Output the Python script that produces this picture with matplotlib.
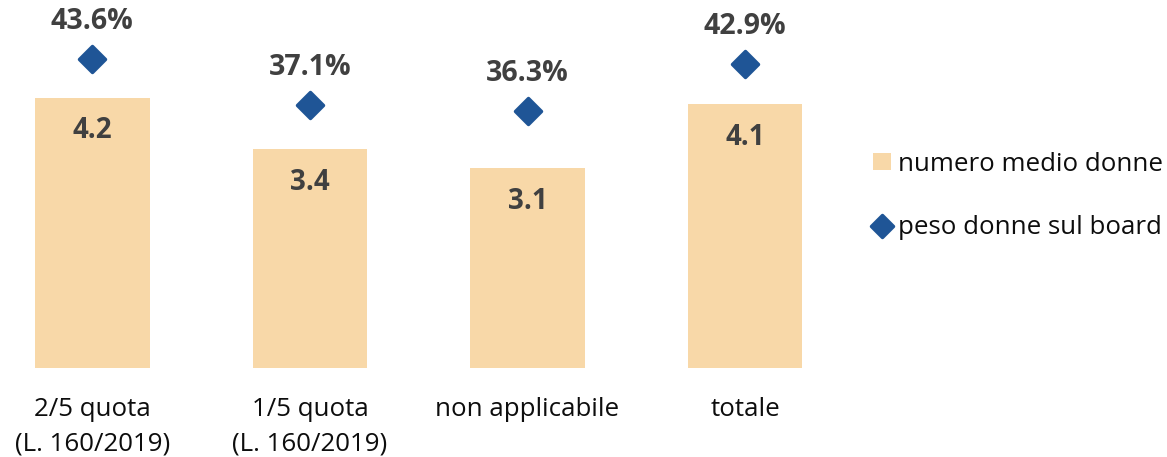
import numpy as np
import matplotlib
matplotlib.use('Agg')
import matplotlib.pyplot as plt
from matplotlib.markers import MarkerStyle
from matplotlib.patches import Patch
from matplotlib.lines import Line2D

plt.rcParams['font.family'] = ['Open Sans', 'DejaVu Sans']

# dati
categorie = ['2/5 quota\n(L. 160/2019)', '1/5 quota\n(L. 160/2019)', 'non applicabile', 'totale']
numero_medio = [4.2, 3.4, 3.1, 4.1]
peso_donne = [43.6, 37.1, 36.3, 42.9]

col_bar = '#F8D8A8'
col_diam = '#1F5596'
col_val = '#404040'

W, H = 1167, 457
fig = plt.figure(figsize=(W / 100, H / 100), dpi=100)

# area del grafico in pixel
x0, dx = 92.3, 217.6
base = 367.7
ax = fig.add_axes([0, (H - base) / H, 870 / W, base / H])
ax.set_xlim(-x0 / dx, (870 - x0) / dx)
ax.set_ylim(0, base / 64.33)

x = np.arange(len(categorie))
ax.bar(x, numero_medio, width=0.526, color=col_bar, zorder=1)
for xi, v in zip(x, numero_medio):
  ax.annotate(f'{v:.1f}', (xi, v), xytext=(0, -24), textcoords='offset points',
              ha='center', va='center', fontsize=20, fontweight='bold', color=col_val)

ax2 = ax.twinx()
ax2.set_ylim(0, base / 7.07)
diam = MarkerStyle('D', joinstyle='round')
ax2.plot(x, peso_donne, linestyle='none', marker=diam, markersize=13,
         color=col_diam, markeredgewidth=2.5)
for xi, v in zip(x, peso_donne):
  ax2.annotate(f'{v:.1f}%', (xi, v), xytext=(0, 27), textcoords='offset points',
               ha='center', va='center', fontsize=20.5, fontweight='bold', color=col_val)

ax.set_xticks(x, categorie, fontsize=18.6, color='#0D0D0D', linespacing=1.5)
ax.tick_params(axis='x', length=0, pad=21)
ax.set_yticks([])
ax2.set_yticks([])
for a in (ax, ax2):
  for s in a.spines.values():
    s.set_visible(False)

handles = [Patch(facecolor=col_bar, edgecolor='none'),
           Line2D([], [], linestyle='none', marker=diam, markersize=11.5,
                  color=col_diam, markeredgewidth=2.5)]
fig.legend(handles, ['numero medio donne', 'peso donne sul board'],
           loc='center left', bbox_to_anchor=(873 / W, (H - 196) / H),
           frameon=False, fontsize=18.6, borderpad=0, borderaxespad=0,
           handlelength=0.68, handleheight=0.6, handletextpad=0.3,
           labelspacing=1.5, labelcolor='#0D0D0D')

fig.savefig('out.png', dpi=100)
